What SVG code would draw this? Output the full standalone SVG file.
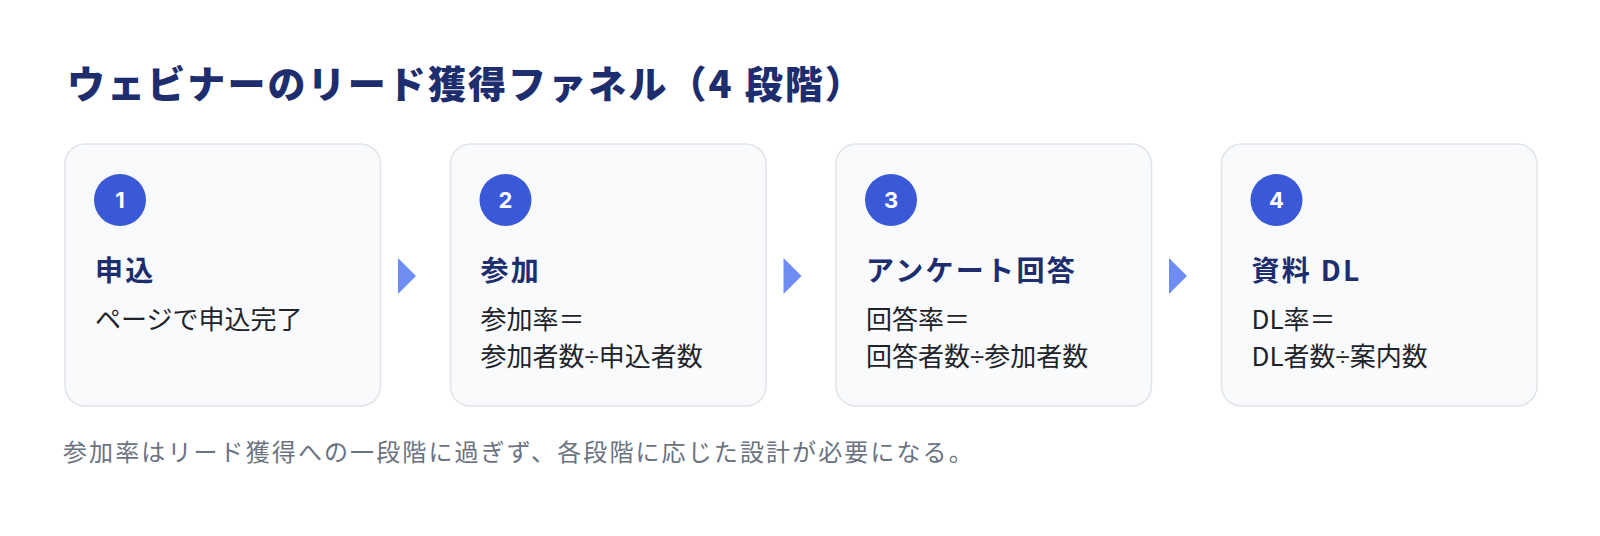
<svg xmlns="http://www.w3.org/2000/svg" width="1600" height="536" viewBox="0 0 1600 536">
  <style>
    .jp { font-family: "Noto Sans CJK JP", "Noto Sans", sans-serif; }
    .title { font-size: 38px; font-weight: 900; fill: #1e2d6e; letter-spacing: 2.1px; }
    .card { fill: #f8fafc; stroke: #e1e4e9; stroke-width: 1.5; }
    .badge { fill: #3a59d8; }
    .num { font-family: "Inter", "Liberation Sans", sans-serif; font-size: 22px; font-weight: 700; fill: #ffffff; text-anchor: middle; }
    .head { font-size: 28px; font-weight: 700; fill: #1e2d6e; letter-spacing: 2.3px; }
    .desc { font-size: 26px; fill: #1f2329; }
    .lat { font-family: "Liberation Sans", "Noto Sans", sans-serif; }
    .note { font-size: 24px; fill: #6b7280; letter-spacing: 2.1px; }
    .arrow { fill: #6d8df3; }
  </style>
  <rect width="1600" height="536" fill="#ffffff"/>
  <text class="jp title" x="67" y="98">ウェビナーのリード獲得ファネル（4 段階）</text>

  <g id="connectors">
    <polygon class="arrow" points="398,258 416,276 398,294"/>
    <polygon class="arrow" points="783.5,258 801.5,276 783.5,294"/>
    <polygon class="arrow" points="1169,258 1187,276 1169,294"/>
  </g>

  <g id="stage1">
    <rect class="card" x="65" y="144" width="315.5" height="262" rx="20"/>
    <circle class="badge" cx="120" cy="200" r="26"/>
    <text class="num" x="120" y="208">1</text>
    <text class="jp head" x="95" y="281">申込</text>
    <text class="jp desc" x="95" y="329">ページで申込完了</text>
  </g>

  <g id="stage2">
    <rect class="card" x="450.5" y="144" width="315.5" height="262" rx="20"/>
    <circle class="badge" cx="505.5" cy="200" r="26"/>
    <text class="num" x="505.5" y="208">2</text>
    <text class="jp head" x="480.5" y="281">参加</text>
    <text class="jp desc" x="480.5" y="329">参加率＝</text>
    <text class="jp desc" x="480.5" y="366">参加者数<tspan class="lat">÷</tspan>申込者数</text>
  </g>

  <g id="stage3">
    <rect class="card" x="836" y="144" width="315.5" height="262" rx="20"/>
    <circle class="badge" cx="891" cy="200" r="26"/>
    <text class="num" x="891" y="208">3</text>
    <text class="jp head" x="866" y="281">アンケート回答</text>
    <text class="jp desc" x="866" y="329">回答率＝</text>
    <text class="jp desc" x="866" y="366">回答者数<tspan class="lat">÷</tspan>参加者数</text>
  </g>

  <g id="stage4">
    <rect class="card" x="1221.5" y="144" width="315.5" height="262" rx="20"/>
    <circle class="badge" cx="1276.5" cy="200" r="26"/>
    <text class="num" x="1276.5" y="208">4</text>
    <text class="jp head" x="1251.5" y="281">資料 DL</text>
    <text class="jp desc" x="1251.5" y="329">DL率＝</text>
    <text class="jp desc" x="1251.5" y="366">DL者数<tspan class="lat">÷</tspan>案内数</text>
  </g>

  <text class="jp note" x="63" y="461">参加率はリード獲得への一段階に過ぎず、各段階に応じた設計が必要になる。</text>
</svg>
